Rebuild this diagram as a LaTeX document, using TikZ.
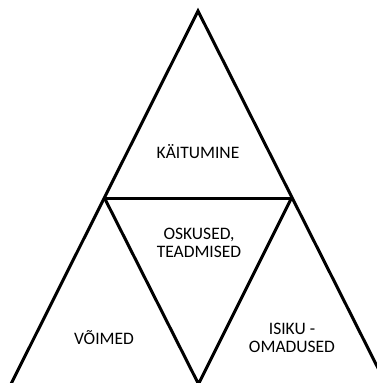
\documentclass[tikz,border=0pt]{standalone}
\usepackage{fontspec}
\setmainfont{Carlito}
\begin{document}
\begin{tikzpicture}[x=1pt,y=-1pt,
  edge/.style={line width=3pt, line join=miter, line cap=butt},
  label/.style={align=center, text=black, font=\fontsize{17.5}{17.5}\selectfont, inner sep=0pt}]
\useasboundingbox (0,0) rectangle (377,383);
\clip (0,0) rectangle (377,383);
% corner points of the outer triangle and the inner one
\coordinate (A) at (198,11);
\coordinate (BL) at (11,384);
\coordinate (BR) at (386,384);
\coordinate (L) at (104.5,198);
\coordinate (R) at (291.5,198);
\coordinate (B) at (198.5,384);
\draw[edge] (BL) -- (A) -- (BR);
\draw[edge] (L) -- (R);
\draw[edge] (L) -- (B) -- (R);
% labels
\node[label] (top) at (198,152) {KÄITUMINE};
\node[label] (mid) at (199,243) {OSKUSED,\\TEADMISED};
\node[label] (left) at (104,338) {VÕIMED};
\node[label] (right) at (292,338) {ISIKU -\\OMADUSED};
\end{tikzpicture}
\end{document}
